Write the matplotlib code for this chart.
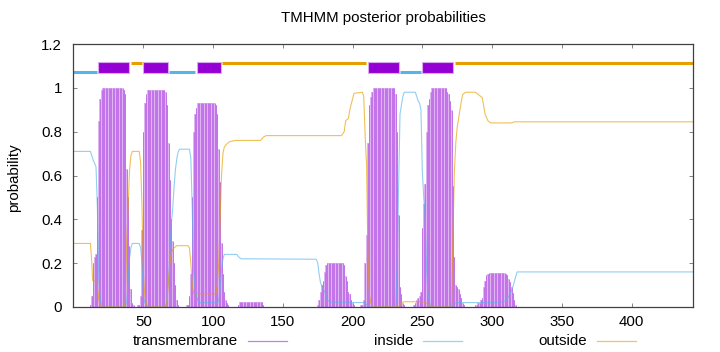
import matplotlib
matplotlib.use('Agg')
import matplotlib.pyplot as plt
from matplotlib.lines import Line2D
import numpy as np

plt.rcParams['font.family'] = ['Liberation Sans', 'DejaVu Sans']

SEQ_LEN = 444
FS = 10.8

# transmembrane posterior per residue: (first residue, values)
tm_blocks = [
    (12, [0.01, 0.05, 0.20, 0.23, 0.24, 0.50, 0.85, 0.95, 0.99,
          1.0, 1.0, 1.0, 1.0, 1.0, 1.0, 1.0, 1.0, 1.0, 1.0, 1.0, 1.0, 1.0, 1.0, 1.0,
          0.99, 0.97, 0.63, 0.50, 0.28, 0.08, 0.02, 0.01]),
    (46, [0.01, 0.01, 0.05, 0.35, 0.80, 0.93, 0.97,
          0.99, 0.99, 0.99, 0.99, 0.99, 0.99, 0.99, 0.99, 0.99, 0.99, 0.99, 0.99, 0.99,
          0.98, 0.92, 0.75, 0.58, 0.40, 0.30, 0.20, 0.10, 0.03, 0.01]),
    (81, [0.01, 0.01, 0.05, 0.15, 0.50, 0.80, 0.88, 0.91,
          0.93, 0.93, 0.93, 0.93, 0.93, 0.93, 0.93, 0.93, 0.93, 0.93, 0.93, 0.93, 0.93,
          0.92, 0.88, 0.72, 0.57, 0.29, 0.15, 0.07, 0.03, 0.02, 0.01]),
    (118, [0.01, 0.024, 0.024, 0.024, 0.024, 0.024, 0.024, 0.024, 0.024, 0.024,
           0.024, 0.024, 0.024, 0.024, 0.024, 0.024, 0.024, 0.024, 0.01]),
    (175, [0.01, 0.03, 0.07, 0.10, 0.12, 0.16, 0.19,
           0.20, 0.20, 0.20, 0.20, 0.20, 0.20, 0.20, 0.20, 0.20, 0.20, 0.20, 0.20,
           0.19, 0.14, 0.12, 0.07, 0.06, 0.03, 0.02, 0.01]),
    (206, [0.01, 0.01, 0.03, 0.20, 0.33, 0.75, 0.92, 0.96, 0.98,
           1.0, 1.0, 1.0, 1.0, 1.0, 1.0, 1.0, 1.0, 1.0, 1.0, 1.0, 1.0, 1.0, 1.0, 1.0, 1.0,
           0.97, 0.80, 0.42, 0.09, 0.06, 0.02, 0.01]),
    (244, [0.01, 0.02, 0.03, 0.04, 0.05, 0.07, 0.36, 0.47, 0.56, 0.80, 0.92, 0.95, 0.98,
           1.0, 1.0, 1.0, 1.0, 1.0, 1.0, 1.0, 1.0, 1.0, 1.0, 1.0,
           0.98, 0.97, 0.94, 0.90, 0.55, 0.23, 0.10, 0.09, 0.08, 0.06, 0.04, 0.02, 0.01]),
    (288, [0.01, 0.01, 0.02, 0.02, 0.03, 0.04, 0.09, 0.12, 0.145, 0.152,
           0.155, 0.155, 0.155, 0.155, 0.155, 0.155, 0.155, 0.155, 0.155, 0.155, 0.155, 0.155,
           0.15, 0.146, 0.13, 0.116, 0.09, 0.064, 0.03, 0.01]),
]

inside_x = [0, 12, 13, 14, 16, 17, 18, 19, 20, 21, 37, 38, 39, 40, 41, 42, 47, 48, 49, 50,
            51, 52, 53, 66, 67, 68, 69, 70, 71, 72, 73, 74, 75, 76, 83, 84, 85, 86, 87, 88,
            89, 90, 103, 104, 105, 106, 107, 108, 117, 118, 120, 174, 175, 176, 177, 179, 180,
            182, 184, 209, 210, 211, 231, 232, 233, 234, 235, 236, 237, 245, 246, 247, 248,
            249, 250, 251, 252, 253, 254, 255, 256, 271, 272, 274, 303, 308, 310, 313, 315,
            317, 318, 444]
inside_y = [0.71, 0.71, 0.69, 0.67, 0.64, 0.45, 0.12, 0.04, 0.01, 0.0, 0.0, 0.02, 0.12, 0.22,
            0.27, 0.29, 0.29, 0.27, 0.20, 0.05, 0.02, 0.01, 0.0, 0.0, 0.05, 0.12, 0.25, 0.38,
            0.45, 0.55, 0.63, 0.68, 0.71, 0.72, 0.72, 0.68, 0.45, 0.17, 0.09, 0.05, 0.03, 0.02,
            0.02, 0.03, 0.08, 0.17, 0.22, 0.24, 0.24, 0.23, 0.22, 0.218, 0.20, 0.15, 0.11, 0.08,
            0.07, 0.03, 0.022, 0.02, 0.01, 0.0, 0.0, 0.20, 0.55, 0.88, 0.92, 0.96, 0.98, 0.98,
            0.96, 0.94, 0.93, 0.90, 0.62, 0.50, 0.42, 0.18, 0.06, 0.03, 0.0, 0.0, 0.01, 0.02,
            0.02, 0.025, 0.03, 0.06, 0.093, 0.14, 0.16, 0.16]

outside_x = [0, 12, 13, 13.6, 16.7, 17, 18, 19, 20, 36, 37, 38, 39, 40, 41, 42, 47, 48, 49,
             50, 51, 52, 53, 66, 67, 68, 69, 70, 72, 74, 82, 83, 84, 85, 86, 102, 103, 104,
             105, 106, 107, 108, 110, 112, 116, 134, 136, 138, 192, 194, 195, 197, 198, 200,
             201, 207, 208, 209, 210, 211, 212, 213, 214, 233, 234, 235, 237, 250, 252, 254,
             256, 271, 272, 273, 274, 275, 276, 277, 278, 279, 281, 288, 290, 293, 295, 297,
             299, 314, 316, 444]
outside_y = [0.29, 0.29, 0.20, 0.12, 0.115, 0.10, 0.03, 0.01, 0.0, 0.0, 0.02, 0.30, 0.45,
             0.62, 0.69, 0.71, 0.71, 0.66, 0.45, 0.15, 0.05, 0.02, 0.0, 0.0, 0.03, 0.12, 0.20,
             0.25, 0.27, 0.28, 0.28, 0.27, 0.20, 0.10, 0.06, 0.06, 0.10, 0.20, 0.40, 0.60,
             0.70, 0.73, 0.745, 0.755, 0.76, 0.76, 0.775, 0.782, 0.782, 0.80, 0.85, 0.86, 0.90,
             0.95, 0.975, 0.98, 0.96, 0.78, 0.65, 0.23, 0.06, 0.02, 0.0, 0.0, 0.01, 0.02,
             0.024, 0.024, 0.02, 0.01, 0.0, 0.0, 0.35, 0.62, 0.75, 0.82, 0.86, 0.90, 0.94,
             0.97, 0.98, 0.98, 0.97, 0.955, 0.88, 0.85, 0.84, 0.84, 0.845, 0.845]

# predicted topology (region, start, end)
topology = [('inside', -0.5, 16.5), ('TMhelix', 17.6, 39.8), ('outside', 41.0, 48.8),
            ('TMhelix', 49.9, 67.3), ('inside', 68.3, 86.9), ('TMhelix', 88.1, 105.3),
            ('outside', 106.3, 209.6), ('TMhelix', 210.8, 233.0), ('inside', 234.0, 248.8),
            ('TMhelix', 249.8, 272.0), ('outside', 273.4, 444.1)]

C_TM = '#9400d3'
C_IN = '#56b4e9'
C_OUT = '#e69f00'

tm = np.zeros(SEQ_LEN + 1)
for start, vals in tm_blocks:
    tm[start:start + len(vals)] = vals
res = np.arange(SEQ_LEN + 1)

fig = plt.figure(figsize=(7.2, 3.52), dpi=100)
ax = fig.add_axes([73 / 720, 1 - 307 / 352, 620 / 720, 263 / 352])

mask = tm > 0
ax.bar(res[mask], tm[mask], width=1.0, color='#e0b4f3', linewidth=0)
ax.vlines(res[mask], 0, tm[mask], color='#c274e8', lw=0.7)

ax.plot(inside_x, inside_y, color=C_IN, lw=0.8, alpha=0.65)
ax.plot(outside_x, outside_y, color=C_OUT, lw=0.8, alpha=0.65)

for kind, s, e in topology:
    if kind == 'TMhelix':
        ax.broken_barh([(s, e - s)], (1.068, 0.049), facecolor=C_TM,
                       edgecolor='#dba8f2', lw=0.8)
    elif kind == 'inside':
        ax.hlines(1.072, s, e, color=C_IN, lw=2.2)
    else:
        ax.hlines(1.112, s, e, color=C_OUT, lw=2.2)

ax.set_xlim(-0.5, 444.1)
ax.set_ylim(0, 1.2)
ax.set_xticks(np.arange(50, 401, 50))
ax.set_yticks([0, 0.2, 0.4, 0.6, 0.8, 1.0, 1.2])
ax.set_yticklabels(['0', '0.2', '0.4', '0.6', '0.8', '1', '1.2'])
ax.tick_params(direction='in', length=3, width=0.6, color='#707070', labelsize=FS,
               top=True, right=True, labelcolor='black')
ax.tick_params(axis='y', pad=8)
ax.tick_params(axis='x', pad=6)
for sp in ax.spines.values():
    sp.set_color('#404040')
    sp.set_linewidth(0.9)

fig.text(14 / 720, 1 - 178 / 352, 'probability', rotation=90, ha='center', va='center',
         fontsize=FS)
fig.text(383 / 720, 1 - 18 / 352, 'TMHMM posterior probabilities', ha='center',
         va='center', fontsize=FS)

# legend row at the bottom, gnuplot style
ly = 1 - 341 / 352
legend_items = [('transmembrane', '#c080e6', 238), ('inside', '#9fd0ec', 413),
                ('outside', '#f0c464', 587)]
for label, col, xr in legend_items:
    fig.text(xr / 720, ly, label, ha='right', va='center', fontsize=FS)
    fig.add_artist(Line2D([(xr + 10) / 720, (xr + 49) / 720], [ly, ly], color=col, lw=0.9))

fig.savefig('out.png', dpi=100)
